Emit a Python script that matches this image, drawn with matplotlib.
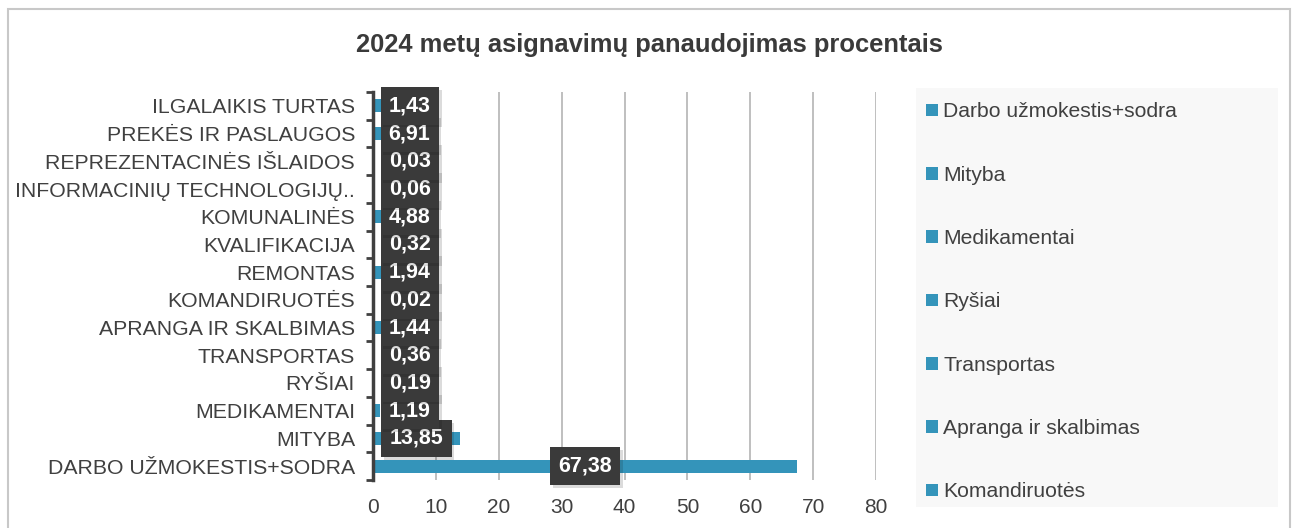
from matplotlib import pyplot as plt
from matplotlib.patches import Rectangle, Patch
import matplotlib.patheffects as pe

plt.rcParams['font.family'] = ['Liberation Sans', 'DejaVu Sans']

categories = ['DARBO UŽMOKESTIS+SODRA', 'MITYBA', 'MEDIKAMENTAI', 'RYŠIAI',
              'TRANSPORTAS', 'APRANGA IR SKALBIMAS', 'KOMANDIRUOTĖS', 'REMONTAS',
              'KVALIFIKACIJA', 'KOMUNALINĖS', 'INFORMACINIŲ TECHNOLOGIJŲ..',
              'REPREZENTACINĖS IŠLAIDOS', 'PREKĖS IR PASLAUGOS', 'ILGALAIKIS TURTAS']
values = [67.38, 13.85, 1.19, 0.19, 0.36, 1.44, 0.02, 1.94, 0.32, 4.88, 0.06, 0.03, 6.91, 1.43]
legend_labels = ['Darbo užmokestis+sodra', 'Mityba', 'Medikamentai', 'Ryšiai',
                 'Transportas', 'Apranga ir skalbimas', 'Komandiruotės']

bar_color = '#3494ba'
text_color = '#404040'

fig = plt.figure(figsize=(12.99, 5.28), dpi=100)
# outer chart border
fig.patches.append(Rectangle((8 / 1299, -0.05), 1282 / 1299, 1 - 9 / 528 + 0.05,
                             transform=fig.transFigure, fill=False,
                             edgecolor='#c8c8c8', linewidth=1.5))

ax = fig.add_axes([373 / 1299, 48 / 528, 503 / 1299, 388 / 528])
y = list(range(len(categories)))
ax.barh(y, values, height=0.47, color=bar_color, zorder=2)
ax.set_xlim(0, 80)
ax.set_ylim(-0.5, len(categories) - 0.5)
ax.set_xticks(range(0, 81, 10))
ax.set_yticks(y)
ax.set_yticklabels(categories)
ax.set_yticks([i - 0.5 for i in range(len(categories) + 1)], minor=True)
ax.tick_params(axis='y', which='major', length=0, pad=13, labelsize=15.3, labelcolor=text_color)
ax.tick_params(axis='y', which='minor', length=5, width=2, color=text_color)
ax.tick_params(axis='x', length=0, pad=13, labelsize=15, labelcolor=text_color)
ax.grid(axis='x', color='#b4b4b4', linewidth=1.2, zorder=0)
for s in ['top', 'right', 'bottom']:
    ax.spines[s].set_visible(False)
ax.spines['left'].set_color(text_color)
ax.spines['left'].set_linewidth(2.5)

# data labels in dark boxes
for i, v in enumerate(values):
    lab = ('%.2f' % v).replace('.', ',')
    if v / 2 > 6:
        x, ha = v / 2, 'center'
    else:
        x, ha = 2.5, 'left'
    ax.text(x, i, lab, ha=ha, va='center', color='white', fontsize=15.5,
            fontweight='bold', zorder=5,
            bbox=dict(boxstyle='square,pad=0.38', facecolor='#3a3a3a', edgecolor='none',
                      path_effects=[pe.withSimplePatchShadow(offset=(2, -2), alpha=0.15)]))

fig.text(0.5, 1 - 45 / 528, '2024 metų asignavimų panaudojimas procentais',
         ha='center', va='center', fontsize=18.4, fontweight='bold', color='#3a3a3a')

# legend
fig.patches.append(Rectangle((916 / 1299, 1 - 507 / 528), 362 / 1299, 419 / 528,
                             transform=fig.transFigure, facecolor='#f8f8f8',
                             edgecolor='none'))
handles = [Patch(facecolor=bar_color) for _ in legend_labels]
fig.legend(handles, legend_labels, loc='upper left', bbox_to_anchor=(918 / 1299, 1 - 94 / 528),
           frameon=False, fontsize=15.2, labelcolor=text_color, handlelength=0.55,
           handleheight=0.55, handletextpad=0.25, labelspacing=2.1, borderaxespad=0)

fig.savefig('out.png', dpi=100)
